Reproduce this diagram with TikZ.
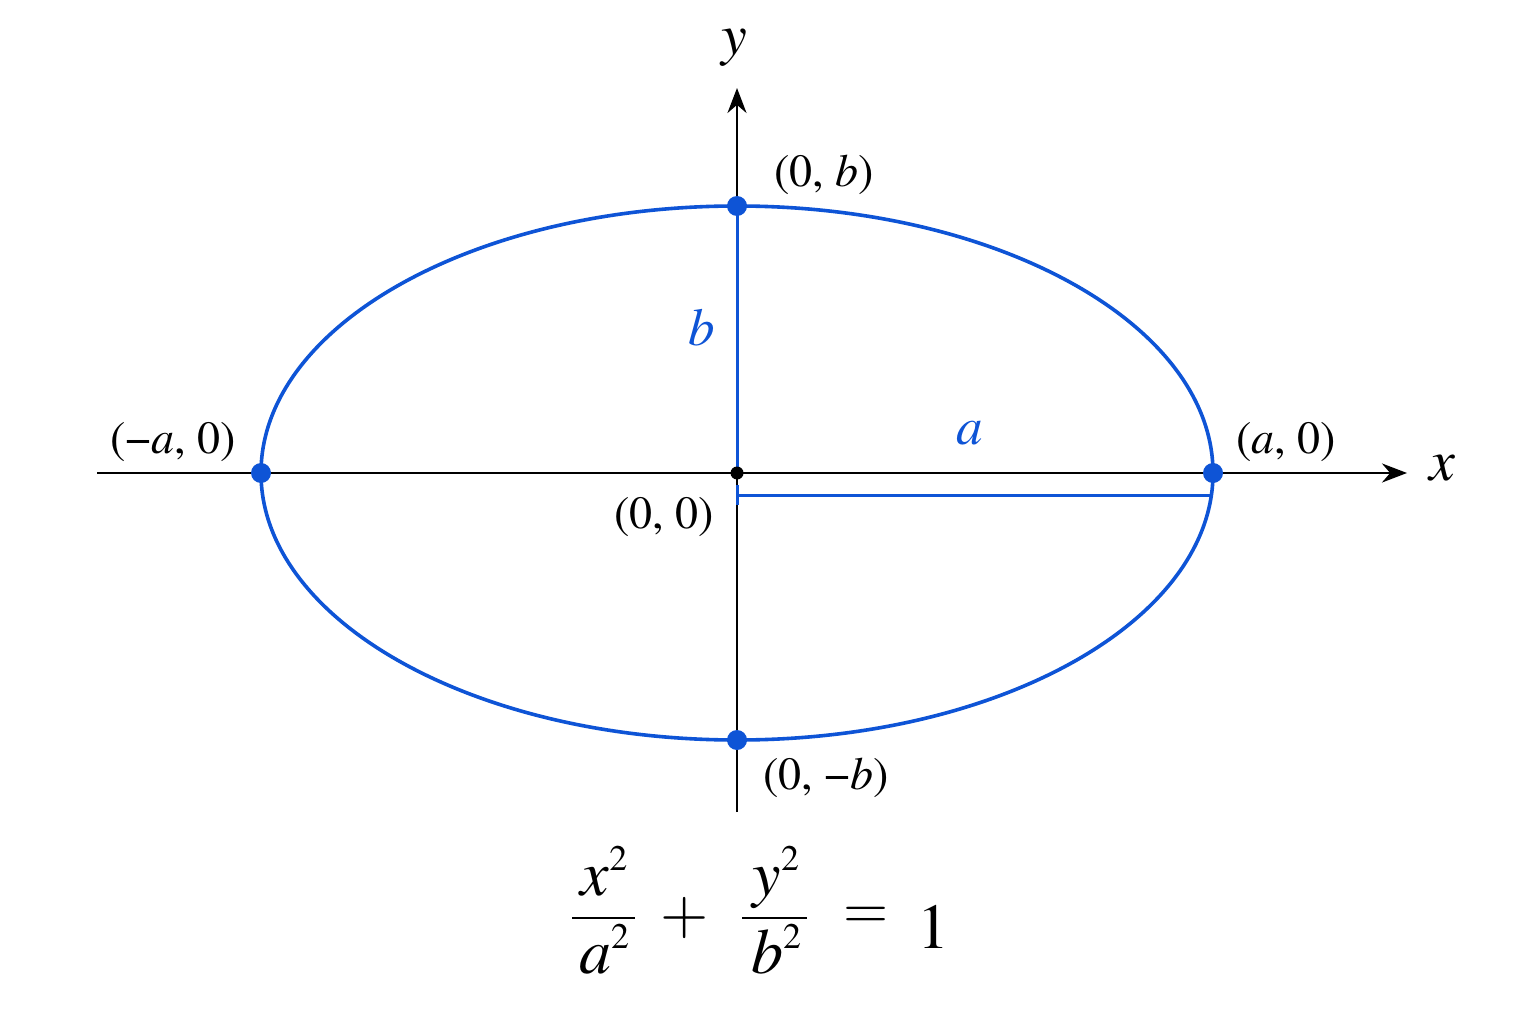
\documentclass[tikz,border=0pt]{standalone}
\usepackage{graphicx}
\usepackage{fontspec}
\setmainfont{texgyretermes}[Extension=.otf, UprightFont=*-regular, ItalicFont=*-italic, BoldFont=*-bold, BoldItalicFont=*-bolditalic]
\usetikzlibrary{arrows.meta}
\definecolor{ellblue}{RGB}{14,84,214}
\tikzset{
  axis/.style={line width=2.4pt, black, -{Stealth[length=25pt,width=19pt]}},
  curve/.style={line width=3.6pt, ellblue},
  radius/.style={line width=3pt, ellblue},
  bluedot/.style={circle, fill=ellblue, inner sep=0pt, minimum size=20pt},
  blackdot/.style={circle, fill=black, inner sep=0pt, minimum size=13pt},
  lbl/.style={font=\fontsize{46}{50}\selectfont, inner sep=0pt},
  bluelbl/.style={font=\fontsize{53}{58}\selectfont\itshape, text=ellblue, inner sep=0pt},
  axlbl/.style={font=\fontsize{58}{62}\selectfont\itshape, inner sep=0pt},
  eqtxt/.style={font=\fontsize{64}{66}\selectfont, inner sep=0pt, anchor=base},
  eqop/.style={inner sep=0pt},
  bar/.style={line width=2.4pt, black}
}
\newcommand{\supsq}{\raisebox{25pt}{\fontsize{36}{36}\selectfont 2}}
\begin{document}
\begin{tikzpicture}[x=1pt,y=-1pt]
\useasboundingbox (0,0) rectangle (1536,1024);
\fill[white] (0,0) rectangle (1536,1024);
% coordinates
\coordinate (O) at (737,473);
\coordinate (xs) at (97,473);
\coordinate (xe) at (1407,473);
\coordinate (ys) at (737,812);
\coordinate (ye) at (737,88);
\coordinate (P0) at (737,485);
\coordinate (P1) at (737,505);
\coordinate (Q0) at (737,495);
\coordinate (Q1) at (1212,495);
% axes
\draw[axis] (xs) -- (xe);
\draw[axis] (ys) -- (ye);
% ellipse
\draw[curve] (O) ellipse [x radius=476pt, y radius=267pt];
% semi-axes
\node[bluedot] (top) at (737,206) {};
\node[bluedot] (bot) at (737,740) {};
\node[bluedot] (left) at (261,473) {};
\node[bluedot] (right) at (1213,473) {};
\draw[radius] (O) -- (top.center);
\draw[radius] (P0) -- (P1);
\draw[radius] (Q0) -- (Q1);
\node[blackdot] (orig) at (O) {};
% labels
\node[axlbl] (ylab) at (734,48) {y};
\node[axlbl] (xlab) at (1442,468) {x};
\node[lbl] (ltop) at (824,175) {(0, \textit{b})};
\node[lbl] (lbot) at (826,778) {(0, −\textit{b})};
\node[lbl] (lleft) at (173,442) {(−\textit{a}, 0)};
\node[lbl] (lright) at (1286,442) {(\textit{a}, 0)};
\node[lbl] (lorig) at (664,517) {(0, 0)};
\node[bluelbl] (blab) at (702,328) {b};
\node[bluelbl] (alab) at (970,433) {a};
% equation
\node[eqtxt] (n1) at (604,895) {\textit{x}\supsq};
\node[eqtxt] (d1) at (604,973) {\textit{a}\supsq};
\draw[bar] (572,918) -- (635,918);
\node[eqop] (plus) at (685,918) {\scalebox{6.2}{$+$}};
\node[eqtxt] (n2) at (776,895) {\textit{y}\supsq};
\node[eqtxt] (d2) at (776,973) {\textit{b}\supsq};
\draw[bar] (742,918) -- (807,918);
\node[eqop] (eq) at (866,918) {\scalebox{5.8}{$=$}};
\node[eqtxt] (one) at (933,948) {1};
\end{tikzpicture}
\end{document}
